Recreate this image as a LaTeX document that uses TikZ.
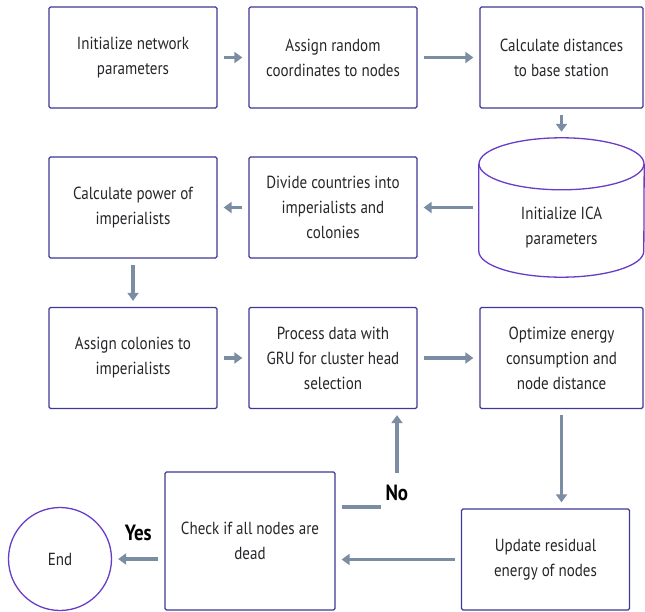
\documentclass[tikz,border=0pt]{standalone}
\usepackage{fontspec}
\setmainfont{PT Sans}[FakeStretch=0.86]
\usepackage{xcolor}
\usetikzlibrary{arrows.meta}
\definecolor{boxline}{RGB}{62,56,150}
\definecolor{roundline}{RGB}{104,60,200}
\definecolor{flowgray}{RGB}{122,141,163}
\definecolor{txt}{RGB}{38,38,42}
\tikzset{
  procbox/.style={draw=boxline, line width=1.3pt, rounded corners=1.5pt, align=center,
                  minimum width=168pt, minimum height=101pt, text=txt,
                  font=\fontsize{17.5}{25}\selectfont},
  dbshape/.style={minimum width=165pt, minimum height=139pt},
  dbline/.style={draw=roundline, line width=1.3pt},
  dbtext/.style={align=center, text=txt, font=\fontsize{17.5}{25}\selectfont},
  endshape/.style={draw=roundline, line width=1.3pt, circle, minimum size=103pt,
                   text=txt, font=\fontsize{17.5}{25}\selectfont},
  flow/.style={draw=flowgray, line width=3.5pt, -{Triangle[length=8pt,width=11pt]},
               shorten <=6pt, shorten >=6pt},
  answer/.style={font=\bfseries\fontsize{22}{24}\selectfont, text=black},
}

\begin{document}
\begin{tikzpicture}[x=1pt, y=-1pt]
    \useasboundingbox (0,0) rectangle (645,612);
    \node[procbox] (init)  at (133,57.5)   {Initialize network\\parameters};
    \node[procbox] (coord) at (333,57.5)   {Assign random\\coordinates to nodes};
    \node[procbox, minimum width=163pt] (dist) at (561.5,57.5) {Calculate distances\\to base station};
    \node[dbshape] (ica)   at (561.5,207.5) {};
    \draw[dbline] ([yshift=-26pt]ica.north) ellipse [x radius=82.5pt, y radius=26pt];
    \draw[dbline] ([yshift=-26pt]ica.north west) -- ([yshift=26pt]ica.south west)
        arc[start angle=180, end angle=360, x radius=82.5pt, y radius=26pt]
        -- ([yshift=-26pt]ica.north east);
    \node[dbtext] (icatext) at ([yshift=-20pt]ica.center) {Initialize ICA\\parameters};
    \node[procbox] (divide) at (333,207.5) {Divide countries into\\imperialists and\\colonies};
    \node[procbox] (power) at (133,207.5)  {Calculate power of\\imperialists};
    \node[procbox] (assign) at (133,358)   {Assign colonies to\\imperialists};
    \node[procbox] (gru)   at (333,358)    {Process data with\\GRU for cluster head\\selection};
    \node[procbox, minimum width=163pt] (optim) at (561.5,358) {Optimize energy\\consumption and\\node distance};
    \node[procbox] (update) at (545.5,559.5) {Update residual\\energy of nodes};
    \node[procbox, minimum width=170pt, minimum height=138pt] (check) at (250,541) {Check if all nodes are\\dead};
    \node[endshape] (end) at (60,559) {End};
    \foreach \a/\b in {init/coord, coord/dist, dist/ica, ica/divide, divide/power,
                       power/assign, assign/gru, gru/optim}
      { \draw[flow] (\a) -- (\b); }
    \draw[flow] (optim.south) -- (optim.south |- update.north);
    \draw[flow] (update.west) -- (update.west -| check.east);
    \draw[flow] (check.west |- end) -- node[answer, above=13pt] {Yes} (end);
    \coordinate (nostub) at (381,507);
    \coordinate (noup) at (397,473);
    \draw[flowgray, line width=3.5pt] (check.east |- nostub) ++(6,0) -- (nostub);
    \node[answer, anchor=west] (no) at (382,493) {No};
    \draw[flow, shorten <=0pt] (noup) -- (gru.south -| noup);
\end{tikzpicture}
\end{document}
